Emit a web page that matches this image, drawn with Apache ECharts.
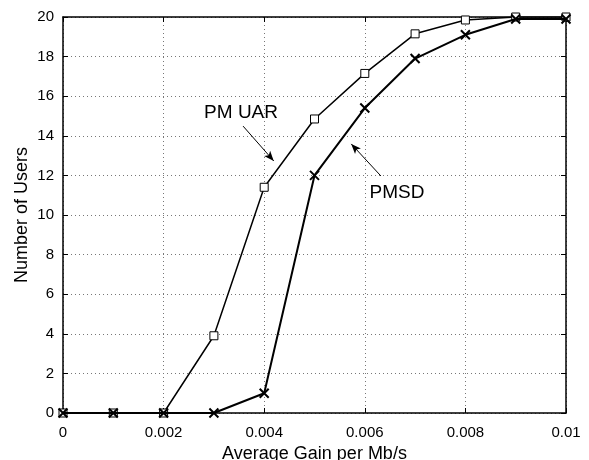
<!DOCTYPE html>
<html>
<head>
<meta charset="utf-8">
<script src="https://cdn.jsdelivr.net/npm/echarts@6/dist/echarts.min.js"></script>
<style>html,body{margin:0;padding:0;background:#fff}#c{width:589px;height:460px}</style>
</head>
<body>
<div id="c"></div>
<script>
const gains = [0, 0.001, 0.002, 0.003, 0.004, 0.005, 0.006, 0.007, 0.008, 0.009, 0.01];
const pmUar = [0, 0, 0, 3.9, 11.4, 14.85, 17.15, 19.15, 19.85, 20, 20];
const pmsd  = [0, 0, 0, 0, 1.0, 12.0, 15.4, 17.9, 19.1, 19.9, 19.9];
const xTicks = [0, 0.002, 0.004, 0.006, 0.008, 0.01];
const yTicks = [0, 2, 4, 6, 8, 10, 12, 14, 16, 18, 20];
const annUar = {text: 'PM UAR', at: [0.00354, 15.15], arrowFrom: [0.00358, 14.49], arrowTo: [0.00419, 12.73]};
const annSd  = {text: 'PMSD', at: [0.00664, 11.1], arrowFrom: [0.00632, 11.97], arrowTo: [0.00573, 13.59]};

const FONT = 'Liberation Sans, Arial, Helvetica, sans-serif';
const pair = (xs, ys) => xs.map((x, i) => [x, ys[i]]);
const fmtX = v => String(parseFloat(v.toFixed(4)));

function ann(a) {
  return {
    markLine: {
      silent: true,
      symbol: ['none', 'arrow'],
      symbolSize: [6, 10],
      label: {show: false},
      lineStyle: {color: '#000', width: 1, type: 'solid'},
      data: [[{coord: a.arrowFrom}, {coord: a.arrowTo}]]
    },
    markPoint: {
      silent: true,
      symbol: 'circle',
      symbolSize: 0,
      label: {show: true, position: 'inside', formatter: a.text, color: '#000', fontSize: 19, fontFamily: FONT},
      data: [{coord: a.at}]
    }
  };
}

const chart = echarts.init(document.getElementById('c'), null, {renderer: 'canvas'});
const axisCommon = {
  axisLine: {show: true, onZero: false, lineStyle: {color: '#000', width: 1.5}},
  axisTick: {show: true, inside: true, length: 5, lineStyle: {color: '#000', width: 1}},
};
chart.setOption({
  animation: false,
  backgroundColor: '#fff',
  grid: {left: 63, right: 23, top: 17, bottom: 47, containLabel: false, outerBoundsMode: 'none'},
  xAxis: [
    Object.assign({
      type: 'value', min: 0, max: 0.01, interval: 0.002,
      name: 'Average Gain per Mb/s', nameLocation: 'middle', nameGap: 31,
      nameTextStyle: {color: '#000', fontSize: 18, fontFamily: FONT},
      axisLabel: {color: '#000', fontSize: 15, fontFamily: FONT, margin: 12, formatter: fmtX},
      splitLine: {show: true, lineStyle: {color: '#777', width: 1, type: [1, 3]}}
    }, axisCommon),
    Object.assign({
      type: 'value', position: 'top', min: 0, max: 0.01, interval: 0.002,
      axisLabel: {show: false}, splitLine: {show: false}
    }, axisCommon)
  ],
  yAxis: [
    Object.assign({
      type: 'value', min: 0, max: 20, interval: 2,
      name: 'Number of Users', nameLocation: 'middle', nameGap: 32, nameMoveOverlap: false,
      nameTextStyle: {color: '#000', fontSize: 18, fontFamily: FONT},
      axisLabel: {color: '#000', fontSize: 15, fontFamily: FONT, margin: 9},
      splitLine: {show: true, lineStyle: {color: '#777', width: 1, type: [1, 3]}}
    }, axisCommon),
    Object.assign({
      type: 'value', position: 'right', min: 0, max: 20, interval: 2,
      axisLabel: {show: false}, splitLine: {show: false}
    }, axisCommon)
  ],
  series: [
    Object.assign({
      name: 'PM UAR', type: 'line', data: pair(gains, pmUar),
      symbol: 'rect', symbolSize: 8, showAllSymbol: true,
      lineStyle: {color: '#000', width: 1.5},
      itemStyle: {color: '#fff', borderColor: '#000', borderWidth: 1},
      z: 3
    }, ann(annUar)),
    Object.assign({
      name: 'PMSD', type: 'line', data: pair(gains, pmsd),
      symbol: 'path://M0,0L10,10M10,0L0,10', symbolSize: 9, showAllSymbol: true,
      lineStyle: {color: '#000', width: 2},
      itemStyle: {color: '#000', borderColor: '#000', borderWidth: 2},
      z: 4
    }, ann(annSd))
  ]
});
</script>
</body>
</html>
